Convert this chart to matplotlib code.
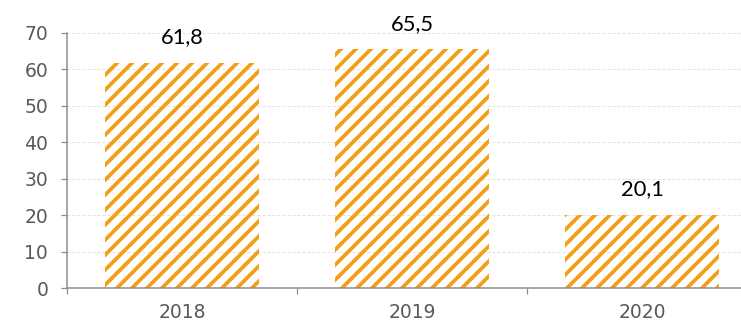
import matplotlib
matplotlib.use("Agg")
import matplotlib.pyplot as plt

years = ["2018", "2019", "2020"]
values = [61.8, 65.5, 20.1]
value_labels = ["61,8", "65,5", "20,1"]
yticks = [0, 10, 20, 30, 40, 50, 60, 70]

ORANGE = "#F49E17"
GRAY = "#8C8C8C"
TEXT_GRAY = "#595959"

DPI = 90
plt.rcParams["hatch.linewidth"] = 3.0

fig = plt.figure(figsize=(742 / DPI, 324 / DPI), dpi=DPI)
ax = fig.add_axes([67 / 742, 1 - 288 / 324, (757 - 67) / 742, (288 - 33) / 324])

x = list(range(len(years)))
ax.bar(x, values, width=0.67, color="none", edgecolor=ORANGE, hatch="//",
       linewidth=0, zorder=2)

for xi, v, lab in zip(x, values, value_labels):
    ax.annotate(lab, (xi, v), xytext=(0, 12.5), textcoords="offset points",
                ha="center", va="bottom", fontsize=17.5, color="black",
                family="Lato")

ax.set_xlim(-0.5, len(years) - 0.5)
ax.set_ylim(0, 70)
ax.set_yticks(yticks)
ax.set_yticklabels([str(t) for t in yticks])

ax.set_xticks([i - 0.5 for i in range(len(years))])
ax.set_xticklabels([])
ax.set_xticks(x, minor=True)
ax.set_xticklabels(years, minor=True)

ax.tick_params(axis="x", which="major", length=5, width=1, color=GRAY, direction="out")
ax.tick_params(axis="x", which="minor", length=0, pad=12, labelsize=15,
               labelcolor=TEXT_GRAY)
ax.tick_params(axis="y", length=5, width=1, color=GRAY, direction="out",
               labelsize=15, labelcolor=TEXT_GRAY, pad=10)
for lbl in ax.get_xticklabels(minor=True) + ax.get_yticklabels():
    lbl.set_family("DejaVu Sans")

ax.grid(axis="y", color="#E3E3E3", linestyle=(0, (3, 2)), linewidth=0.8, zorder=0)
ax.set_axisbelow(True)

for side in ("top", "right"):
    ax.spines[side].set_visible(False)
for side in ("left", "bottom"):
    ax.spines[side].set_color(GRAY)
    ax.spines[side].set_linewidth(1.2)

fig.savefig("out.png", dpi=DPI)
